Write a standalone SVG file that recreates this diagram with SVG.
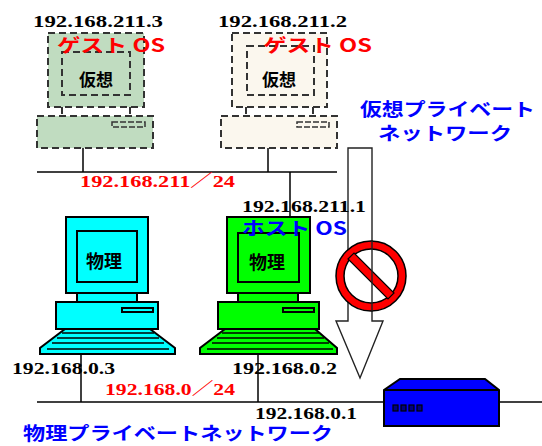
<svg xmlns="http://www.w3.org/2000/svg" width="542" height="446" viewBox="0 0 542 446">
  <style>
    .num { font-family: "Liberation Serif", "Noto Sans CJK JP", serif; font-weight: bold; font-size: 17px; fill: #000; }
    .numred { font-family: "Liberation Serif", "Noto Sans CJK JP", serif; font-weight: bold; font-size: 17px; fill: #ff0000; }
    .jp { font-family: "Noto Sans CJK JP", "Liberation Sans", sans-serif; font-weight: bold; }
    .red { fill: #ff0000; }
    .blue { fill: #0000ff; }
    .black { fill: #000; }
    .dash { stroke: #333; stroke-width: 2; stroke-dasharray: 7 4; }
    .solid { stroke: #000; stroke-width: 2; }
    .wire { stroke: #000; stroke-width: 1.5; fill: none; }
    .key { stroke: #000; stroke-width: 1.6; }
  </style>

  <!-- network wiring -->
  <g id="connectors">
    <!-- virtual private network bus -->
    <line class="wire" x1="37" y1="172" x2="337" y2="172"/>
    <line class="wire" x1="83" y1="148" x2="83" y2="172"/>
    <line class="wire" x1="268" y1="148" x2="268" y2="172"/>
    <line class="wire" x1="290" y1="172" x2="290" y2="217"/>
    <!-- physical private network bus -->
    <line class="wire" x1="37" y1="402" x2="542" y2="402"/>
    <line class="wire" x1="81" y1="353" x2="81" y2="402"/>
    <line class="wire" x1="258" y1="353" x2="258" y2="402"/>
  </g>

  <!-- guest PC 192.168.211.3 -->
  <g id="guest1">
    <rect class="dash" x="48" y="33" width="96" height="74" fill="#c0dcc0"/>
    <rect class="dash" x="62" y="52" width="68" height="43" fill="none"/>
    <line class="dash" x1="62" y1="107" x2="62" y2="116"/>
    <line class="dash" x1="130" y1="107" x2="130" y2="116"/>
    <rect class="dash" x="37" y="116" width="116" height="32" fill="#c0dcc0"/>
    <rect x="112" y="122" width="33" height="5" fill="none" stroke="#333" stroke-width="1.5" stroke-dasharray="6 2"/>
    <text class="jp black" x="96" y="86" font-size="17" text-anchor="middle">仮想</text>
  </g>

  <!-- guest PC 192.168.211.2 -->
  <g id="guest2">
    <rect class="dash" x="232" y="33" width="95" height="74" fill="#fbf7ee"/>
    <rect class="dash" x="247" y="46" width="67" height="49" fill="none"/>
    <line class="dash" x1="246" y1="107" x2="246" y2="116"/>
    <line class="dash" x1="313" y1="107" x2="313" y2="116"/>
    <rect class="dash" x="221" y="116" width="116" height="32" fill="#fbf7ee"/>
    <rect x="297" y="122" width="32" height="5" fill="none" stroke="#333" stroke-width="1.5" stroke-dasharray="6 2"/>
    <text class="jp black" x="279" y="86" font-size="17" text-anchor="middle">仮想</text>
  </g>

  <!-- physical PC 192.168.0.3 -->
  <g id="pc-physical">
    <rect class="solid" x="66" y="217" width="82" height="76" fill="#00ffff"/>
    <rect class="solid" x="77" y="231" width="60" height="51" fill="#00ffff"/>
    <rect class="solid" x="77" y="293" width="60" height="9" fill="#00ffff"/>
    <rect class="solid" x="56" y="302" width="102" height="27" fill="#00ffff"/>
    <rect class="solid" x="122" y="308" width="31" height="4" fill="#00ffff"/>
    <polygon class="solid" points="65,329 150,329 175,348 175,354 40,354 40,348" fill="#00ffff"/>
    <line class="key" x1="62" y1="333" x2="154" y2="333"/>
    <line class="key" x1="57" y1="338" x2="159" y2="338"/>
    <line class="key" x1="52" y1="343" x2="164" y2="343"/>
    <line class="key" x1="47" y1="349" x2="169" y2="349"/>
    <text class="jp black" x="104" y="268" font-size="18" text-anchor="middle">物理</text>
  </g>

  <!-- host PC 192.168.0.2 / 192.168.211.1 -->
  <g id="pc-host">
    <rect class="solid" x="227" y="217" width="83" height="76" fill="#00ff00"/>
    <rect class="solid" x="238" y="233" width="61" height="49" fill="#00ff00"/>
    <rect class="solid" x="238" y="293" width="60" height="9" fill="#00ff00"/>
    <rect class="solid" x="218" y="302" width="101" height="27" fill="#00ff00"/>
    <rect class="solid" x="283" y="308" width="31" height="4" fill="#00ff00"/>
    <polygon class="solid" points="225,329 315,329 337,348 337,354 200,354 200,348" fill="#00ff00"/>
    <line class="key" x1="222" y1="333" x2="319" y2="333"/>
    <line class="key" x1="217" y1="338" x2="324" y2="338"/>
    <line class="key" x1="212" y1="343" x2="329" y2="343"/>
    <line class="key" x1="207" y1="349" x2="333" y2="349"/>
    <text class="jp black" x="267" y="269" font-size="18" text-anchor="middle">物理</text>
  </g>

  <!-- router -->
  <g id="router">
    <polygon class="solid" points="400,379 485,379 499,390 499,426 384,426 384,390" fill="#0000ff"/>
    <line class="solid" x1="384" y1="390" x2="499" y2="390"/>
    <g fill="#000080" stroke="#000" stroke-width="1.2">
      <rect x="393" y="405" width="5" height="6"/>
      <rect x="401" y="405" width="5" height="6"/>
      <rect x="409" y="405" width="5" height="6"/>
      <rect x="417" y="405" width="5" height="6"/>
    </g>
  </g>

  <!-- blocked route arrow with no-entry sign -->
  <g id="blocked-arrow">
    <polygon points="348,148 372,148 372,321 383,321 360,378 336,321 348,321" fill="#fff" stroke="#222" stroke-width="1.4"/>
    <circle cx="371" cy="276" r="31" fill="#fff" stroke="#ff0000" stroke-width="8"/>
    <circle cx="371" cy="276" r="35" fill="none" stroke="#000" stroke-width="1.5"/>
    <circle cx="371" cy="276" r="27" fill="none" stroke="#000" stroke-width="1.5"/>
    <polygon points="348,259 354,253 394,293 388,299" fill="#ff0000" stroke="#000" stroke-width="1.2"/>
    <line x1="372" y1="240" x2="372" y2="312" stroke="#222" stroke-width="1.4"/>
  </g>

  <!-- address and network labels -->
  <g id="labels">
    <text class="num" x="33" y="27" textLength="130" lengthAdjust="spacingAndGlyphs">192.168.211.3</text>
    <text class="num" x="218" y="27" textLength="129" lengthAdjust="spacingAndGlyphs">192.168.211.2</text>
    <text class="jp red" x="57" y="52" font-size="18" textLength="108" lengthAdjust="spacingAndGlyphs">ゲスト OS</text>
    <text class="jp red" x="263" y="52" font-size="18" textLength="109" lengthAdjust="spacingAndGlyphs">ゲスト OS</text>
    <text class="jp blue" x="360" y="116" font-size="18" textLength="175" lengthAdjust="spacingAndGlyphs">仮想プライベート</text>
    <text class="jp blue" x="378" y="140" font-size="18" textLength="134" lengthAdjust="spacingAndGlyphs">ネットワーク</text>
    <text class="numred" x="80" y="187" textLength="155" lengthAdjust="spacingAndGlyphs">192.168.211／24</text>
    <text class="num" x="242" y="212" textLength="124" lengthAdjust="spacingAndGlyphs">192.168.211.1</text>
    <text class="jp blue" x="242" y="235" font-size="18" textLength="105" lengthAdjust="spacingAndGlyphs">ホスト OS</text>
    <text class="num" x="12" y="374" textLength="103" lengthAdjust="spacingAndGlyphs">192.168.0.3</text>
    <text class="num" x="232" y="374" textLength="105" lengthAdjust="spacingAndGlyphs">192.168.0.2</text>
    <text class="numred" x="105" y="395" textLength="130" lengthAdjust="spacingAndGlyphs">192.168.0／24</text>
    <text class="num" x="255" y="419" font-size="16" textLength="102" lengthAdjust="spacingAndGlyphs">192.168.0.1</text>
    <text class="jp blue" x="23" y="440" font-size="18" textLength="310" lengthAdjust="spacingAndGlyphs">物理プライベートネットワーク</text>
  </g>
</svg>
